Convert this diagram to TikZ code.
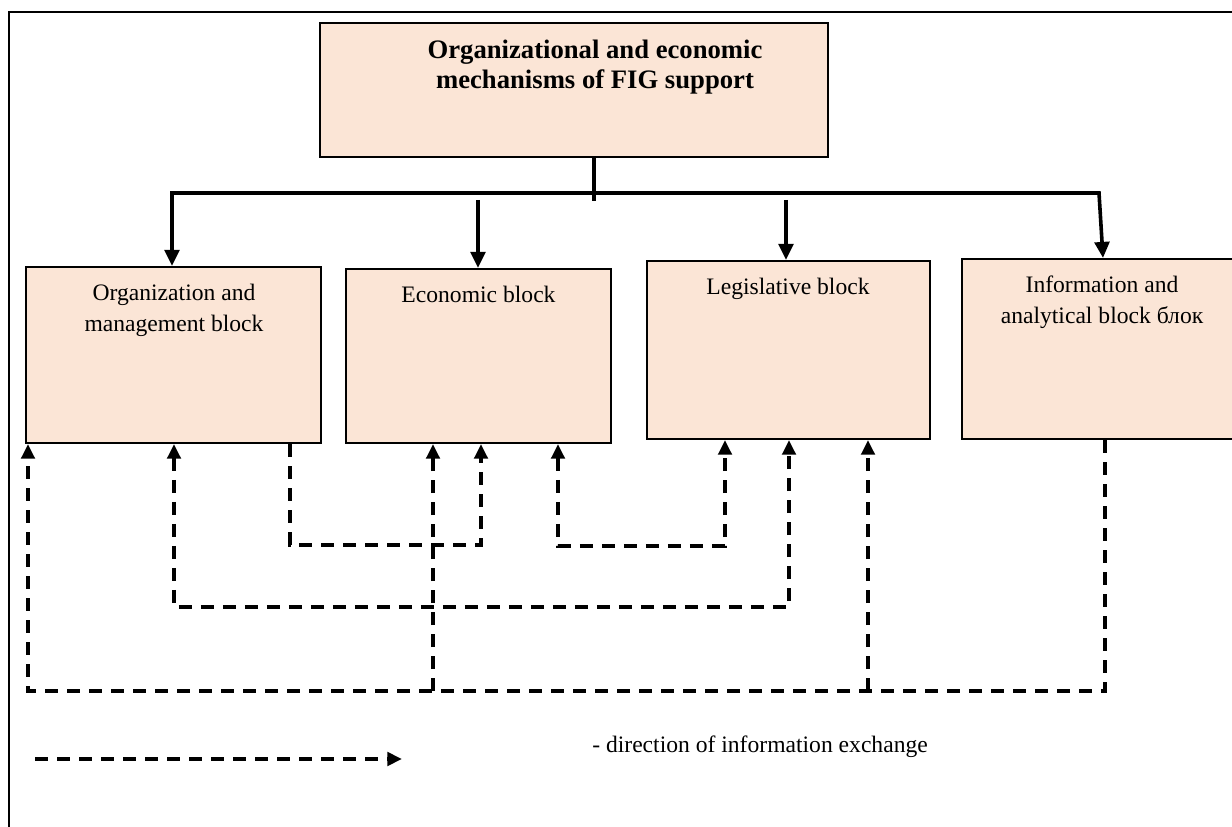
\documentclass[tikz,border=0pt]{standalone}
\usepackage{fontspec}
\setmainfont{Liberation Serif}
\usetikzlibrary{arrows.meta,fit,calc}
\definecolor{peach}{RGB}{251,229,214}
\begin{document}
\begin{tikzpicture}[x=0.75pt,y=-0.75pt,
  blk/.style={draw=black, line width=1.6pt, fill=peach, inner sep=0pt},
  txt/.style={inner sep=0pt, anchor=base, font=\fontsize{17.7}{23.25}\selectfont},
  ttl/.style={inner sep=0pt, anchor=base, font=\fontsize{20}{22.5}\selectfont\bfseries},
  sline/.style={line width=2.7pt, line join=miter},
  sarrow/.style={sline, -{Triangle[length=12pt,width=11pt]}},
  dline/.style={line width=2.8pt, dash pattern=on 10pt off 6.5pt},
  darrow/.style={dline, -{Triangle[length=11pt,width=10pt]}},
  ddarrow/.style={dline, {Triangle[length=11pt,width=10pt]}-{Triangle[length=11pt,width=10pt]}},
]
\useasboundingbox (0,0) rectangle (1232,827);
\clip (0,0) rectangle (1232,827);
\fill[white] (0,0) rectangle (1232,827);
% outer frame
\draw[line width=1.4pt] (9,12) rectangle (1260,860);

% boxes
\node[blk, fit={(320,23)(828,157)}] (top) {};
\node[blk, fit={(26,267)(321,443)}] (b1) {};
\node[blk, fit={(346,269)(611,443)}] (b2) {};
\node[blk, fit={(647,261)(930,439)}] (b3) {};
\node[blk, fit={(962,259)(1250,439)}] (b4) {};

% texts
\node[ttl] (t0) at (595,59) {\begin{tabular}[t]{@{}c@{}}Organizational and economic\\mechanisms of FIG support\end{tabular}};
\node[txt] (t1) at (174,301) {\begin{tabular}[t]{@{}c@{}}Organization and\\management block\end{tabular}};
\node[txt] (t2) at (478.5,303) {Economic block};
\node[txt] (t3) at (788,295) {Legislative block};
\node[txt] (t4) at (1102,293) {\begin{tabular}[t]{@{}c@{}}Information and\\analytical block блок\end{tabular}};
\node[txt, anchor=base west] (t5) at (592,752) {- direction of information exchange};

% solid tree
\coordinate (busL) at (172,193);
\coordinate (busR) at (1099,193);
\coordinate (stemB) at (594,201);
\coordinate (a2) at (478,200);
\coordinate (a3) at (786,200);
\coordinate (a4) at (1103,0);
\draw[sline] (stemB |- top.south) -- (stemB);
\draw[sarrow] (busR) -- (busL) -- (busL |- b1.north);
\draw[sarrow] (busL) -- (busR) -- (a4 |- b4.north);
\draw[sarrow] (a2) -- (a2 |- b2.north);
\draw[sarrow] (a3) -- (a3 |- b3.north);

% dashed information exchange
\coordinate (pA1) at (290,545);
\coordinate (pA2) at (481,545);
\draw[darrow] (pA1 |- b1.south) -- (pA1) -- (pA2) -- (pA2 |- b2.south);

\coordinate (pB1) at (558,546);
\coordinate (pB2) at (725,546);
\draw[ddarrow] (pB1 |- b2.south) -- (pB1) -- (pB2) -- (pB2 |- b3.south);

\coordinate (pC1) at (174,607);
\coordinate (pC2) at (789,607);
\draw[ddarrow] (pC1 |- b1.south) -- (pC1) -- (pC2) -- (pC2 |- b3.south);

\coordinate (pD0) at (1105,691);
\coordinate (pD1) at (28,691);
\draw[darrow] (pD0 |- b4.south) -- (pD0) -- (pD1) -- (pD1 |- b1.south);
\coordinate (pD2) at (433,691);
\draw[darrow] (pD2) -- (pD2 |- b2.south);
\coordinate (pD3) at (868,691);
\draw[darrow] (pD3) -- (pD3 |- b3.south);

% legend
\coordinate (l1) at (35,759);
\coordinate (l2) at (402,759);
\draw[darrow] (l1) -- (l2);
\end{tikzpicture}
\end{document}
